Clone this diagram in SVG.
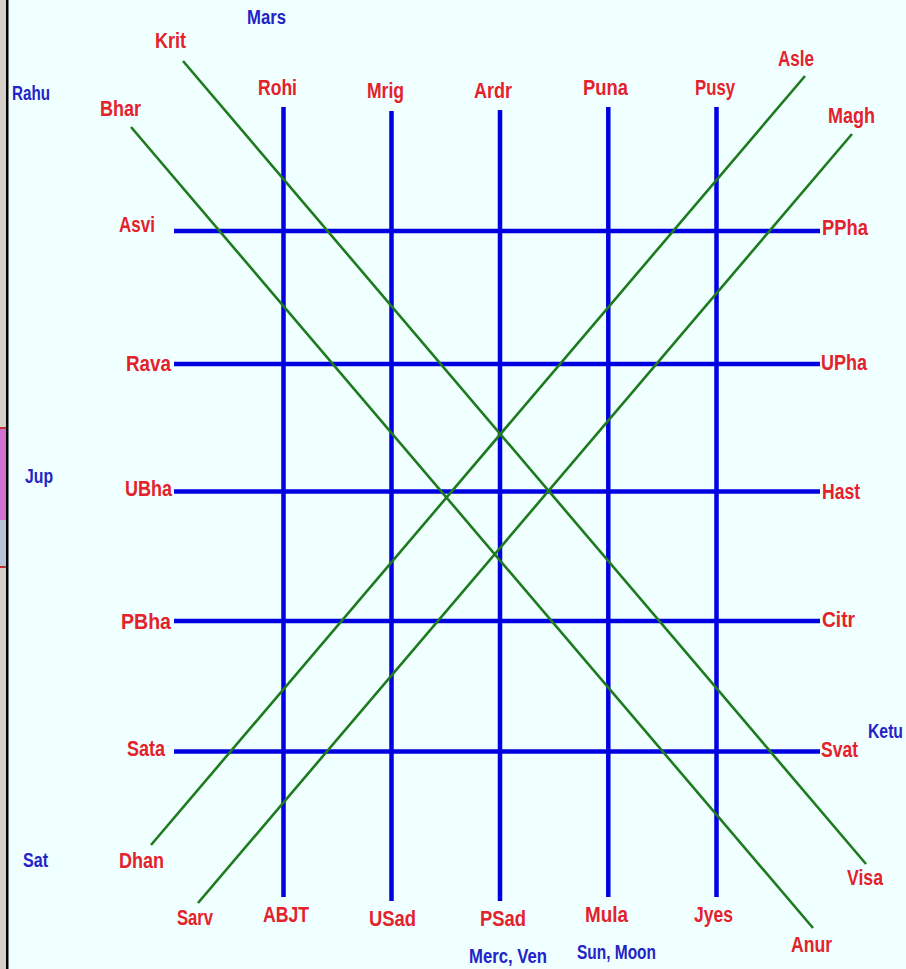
<svg xmlns="http://www.w3.org/2000/svg" width="906" height="969" viewBox="0 0 906 969">
<style>
text{font-family:"Liberation Sans","Arial",sans-serif;font-weight:bold}
.r{fill:#e3222c;font-size:22px}
.b{fill:#2323c8;font-size:20px}
.m{text-anchor:middle}
.e{text-anchor:end}
.bl{stroke:#0000e0;stroke-width:4.5;fill:none}
.gl{stroke:#1e7a1e;stroke-width:2.6;fill:none}
</style>
<rect x="0" y="0" width="906" height="969" fill="#f0ffff"/>
<g id="frame">
<rect x="0" y="0" width="6" height="969" fill="#d4d0c8"/>
<rect x="0" y="428" width="6" height="92" fill="#d070d0"/>
<rect x="0" y="520" width="6" height="46" fill="#b8c4d8"/>
<rect x="0" y="427" width="6" height="2" fill="#c03030"/>
<rect x="0" y="566" width="6" height="2" fill="#c03030"/>
<rect x="6" y="0" width="2.5" height="969" fill="#000"/>
</g>
<g id="connectors">
<line class="bl" x1="283.5" y1="107" x2="283.5" y2="897"/>
<line class="bl" x1="391.5" y1="111" x2="391.5" y2="901"/>
<line class="bl" x1="500" y1="110" x2="500" y2="901"/>
<line class="bl" x1="608.3" y1="107" x2="608.3" y2="897"/>
<line class="bl" x1="716.5" y1="107" x2="716.5" y2="897"/>
<line class="bl" x1="174" y1="231" x2="820" y2="231"/>
<line class="bl" x1="174" y1="364" x2="820" y2="364"/>
<line class="bl" x1="174" y1="491.5" x2="820" y2="491.5"/>
<line class="bl" x1="174" y1="621" x2="820" y2="621"/>
<line class="bl" x1="174" y1="751.5" x2="820" y2="751.5"/>
<line class="gl" x1="183" y1="61" x2="866" y2="864"/>
<line class="gl" x1="131" y1="127" x2="813" y2="928"/>
<line class="gl" x1="805" y1="76" x2="151" y2="845"/>
<line class="gl" x1="852" y1="134" x2="198" y2="903"/>
</g>
<g id="planets">
<g id="mars"><text class="b m" x="266.5" y="24" textLength="39" lengthAdjust="spacingAndGlyphs">Mars</text></g>
<g id="rahu"><text class="b m" x="31" y="100" textLength="38" lengthAdjust="spacingAndGlyphs">Rahu</text></g>
<g id="jup"><text class="b m" x="39" y="483" textLength="28" lengthAdjust="spacingAndGlyphs">Jup</text></g>
<g id="sat"><text class="b m" x="35.5" y="867" textLength="25" lengthAdjust="spacingAndGlyphs">Sat</text></g>
<g id="ketu"><text class="b" x="868" y="738" textLength="35" lengthAdjust="spacingAndGlyphs">Ketu</text></g>
<g id="mercven"><text class="b m" x="508" y="963" textLength="78" lengthAdjust="spacingAndGlyphs">Merc, Ven</text></g>
<g id="sunmoon"><text class="b m" x="616.5" y="959" textLength="79" lengthAdjust="spacingAndGlyphs">Sun, Moon</text></g>
</g>
<g id="nakshatras">
<g id="krit"><text class="r m" x="170.5" y="48" textLength="31" lengthAdjust="spacingAndGlyphs">Krit</text></g>
<g id="bhar"><text class="r m" x="120.5" y="116" textLength="41" lengthAdjust="spacingAndGlyphs">Bhar</text></g>
<g id="rohi"><text class="r m" x="277.5" y="95" textLength="39" lengthAdjust="spacingAndGlyphs">Rohi</text></g>
<g id="mrig"><text class="r m" x="385.5" y="98" textLength="37" lengthAdjust="spacingAndGlyphs">Mrig</text></g>
<g id="ardr"><text class="r m" x="493" y="98" textLength="38" lengthAdjust="spacingAndGlyphs">Ardr</text></g>
<g id="puna"><text class="r m" x="605.5" y="95" textLength="45" lengthAdjust="spacingAndGlyphs">Puna</text></g>
<g id="pusy"><text class="r m" x="715" y="95" textLength="40" lengthAdjust="spacingAndGlyphs">Pusy</text></g>
<g id="asle"><text class="r m" x="796" y="66" textLength="36" lengthAdjust="spacingAndGlyphs">Asle</text></g>
<g id="magh"><text class="r m" x="851.5" y="123" textLength="47" lengthAdjust="spacingAndGlyphs">Magh</text></g>
<g id="ppha"><text class="r" x="822" y="235" textLength="46" lengthAdjust="spacingAndGlyphs">PPha</text></g>
<g id="upha"><text class="r" x="821" y="370" textLength="46" lengthAdjust="spacingAndGlyphs">UPha</text></g>
<g id="hast"><text class="r" x="822" y="499" textLength="38" lengthAdjust="spacingAndGlyphs">Hast</text></g>
<g id="citr"><text class="r" x="822" y="627" textLength="33" lengthAdjust="spacingAndGlyphs">Citr</text></g>
<g id="svat"><text class="r" x="821" y="757" textLength="37" lengthAdjust="spacingAndGlyphs">Svat</text></g>
<g id="visa"><text class="r m" x="865" y="885" textLength="36" lengthAdjust="spacingAndGlyphs">Visa</text></g>
<g id="anur"><text class="r m" x="811.5" y="952" textLength="41" lengthAdjust="spacingAndGlyphs">Anur</text></g>
<g id="jyes"><text class="r m" x="713.5" y="922" textLength="39" lengthAdjust="spacingAndGlyphs">Jyes</text></g>
<g id="mula"><text class="r m" x="606.5" y="922" textLength="43" lengthAdjust="spacingAndGlyphs">Mula</text></g>
<g id="psad"><text class="r m" x="503" y="926" textLength="46" lengthAdjust="spacingAndGlyphs">PSad</text></g>
<g id="usad"><text class="r m" x="392.5" y="926" textLength="47" lengthAdjust="spacingAndGlyphs">USad</text></g>
<g id="abjt"><text class="r m" x="286" y="922" textLength="46" lengthAdjust="spacingAndGlyphs">ABJT</text></g>
<g id="sarv"><text class="r m" x="195" y="925" textLength="36" lengthAdjust="spacingAndGlyphs">Sarv</text></g>
<g id="dhan"><text class="r m" x="141.5" y="868" textLength="45" lengthAdjust="spacingAndGlyphs">Dhan</text></g>
<g id="sata"><text class="r e" x="165" y="756" textLength="38" lengthAdjust="spacingAndGlyphs">Sata</text></g>
<g id="pbha"><text class="r e" x="171" y="629" textLength="50" lengthAdjust="spacingAndGlyphs">PBha</text></g>
<g id="ubha"><text class="r e" x="172" y="496" textLength="47" lengthAdjust="spacingAndGlyphs">UBha</text></g>
<g id="rava"><text class="r e" x="171" y="371" textLength="45" lengthAdjust="spacingAndGlyphs">Rava</text></g>
<g id="asvi"><text class="r e" x="155" y="232" textLength="36" lengthAdjust="spacingAndGlyphs">Asvi</text></g>
</g>
</svg>
